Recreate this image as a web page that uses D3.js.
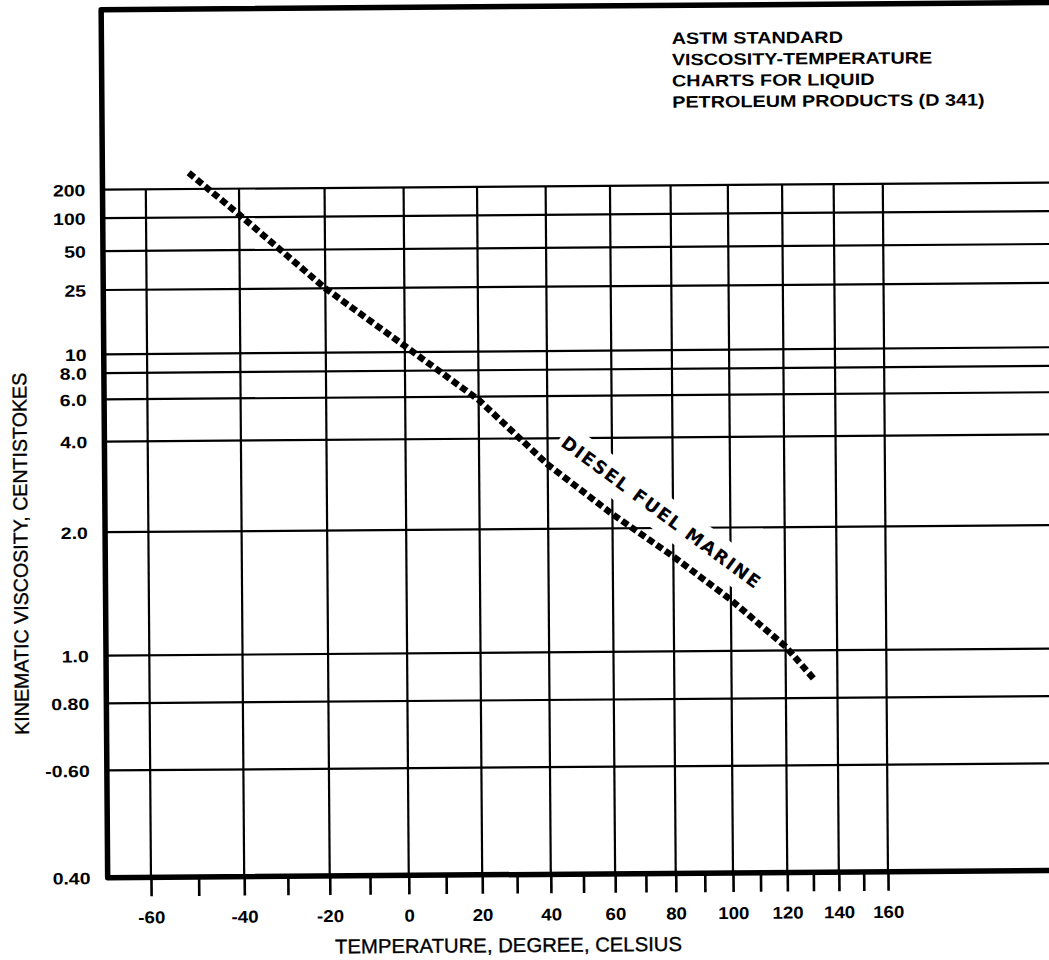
<!DOCTYPE html>
<html><head><meta charset="utf-8">
<script src="https://cdn.jsdelivr.net/npm/d3@7"></script>
<style>body{margin:0;background:#fff;} svg{display:block;}</style>
</head><body><svg id="chart" width="1049" height="960"></svg>
<script>
// ---------- data ----------
const viscosityTicks  = [200, 100, 50, 25, 10, 8, 6, 4, 2, 1, 0.8, 0.6, 0.4];
const viscosityLabels = ["200", "100", "50", "25", "10", "8.0", "6.0", "4.0", "2.0", "1.0", "0.80", "-0.60", "0.40"];
const temperatureMajor = [-60, -40, -20, 0, 20, 40, 60, 80, 100, 120, 140, 160];
const temperatureMinor = [-50, -30, -10, 10, 30, 50, 70, 90, 110, 130, 150];
const dieselTemps = [-51, -40, -20, 0, 20, 40, 60, 80, 100, 120, 131];
const dieselVisc  = [310, 106, 25, 10.8, 5.8, 3.2, 2.2, 1.67, 1.3, 1.02, 0.87];
const seriesLabel = "DIESEL FUEL MARINE";
const titleLines = ["ASTM STANDARD", "VISCOSITY-TEMPERATURE", "CHARTS FOR LIQUID", "PETROLEUM PRODUCTS (D 341)"];
const xTitle = "TEMPERATURE, DEGREE, CELSIUS";
const yTitle = "KINEMATIC VISCOSITY, CENTISTOKES";

// ---------- ASTM D341 transforms ----------
const astm = v => Math.log10(Math.log10(v + 0.7 + Math.exp(-1.47 - 1.84 * v - 0.51 * v * v)));
const K = t => t + 273.15;

const W = 1049, H = 960;
const left = 104.7, topY = 6.5, right = 1080;
const FONT = "'Liberation Sans', Arial, Helvetica, sans-serif";

const x = d3.scaleLog().domain([K(-60), K(160)]).range([148, 885]);
const y = d3.scaleLinear().domain([astm(200), astm(0.4)]).range([186.5, 874.5]);
const yTop = y(astm(200)), yBottom = y(astm(0.4));

const svg = d3.select("#chart");
svg.append("rect").attr("width", W).attr("height", H).attr("fill", "#fff");
const g = svg.append("g").attr("transform", "rotate(-0.43 525 480)");

function stretch(sel, f) {
  sel.each(function () {
    const L = this.getComputedTextLength();
    d3.select(this).attr("textLength", L * f).attr("lengthAdjust", "spacingAndGlyphs");
  });
}

// ---------- grid ----------
g.append("g").selectAll("line").data(viscosityTicks.slice(0, -1)).join("line")
  .attr("x1", left).attr("x2", right)
  .attr("y1", d => y(astm(d))).attr("y2", d => y(astm(d)))
  .attr("stroke", "#000").attr("stroke-width", 2.2);

g.append("g").selectAll("line").data(temperatureMajor).join("line")
  .attr("x1", d => x(K(d))).attr("x2", d => x(K(d)))
  .attr("y1", yTop).attr("y2", yBottom)
  .attr("stroke", "#000").attr("stroke-width", 2.2);

// ---------- frame ----------
g.append("path")
  .attr("d", `M${right},${topY}L${left},${topY}L${left},${yBottom}L${right},${yBottom}`)
  .attr("fill", "none").attr("stroke", "#000").attr("stroke-width", 5.5)
  .attr("stroke-linejoin", "round");

// ---------- x axis (ticks + labels) ----------
const allTemps = temperatureMajor.concat(temperatureMinor).sort((a, b) => a - b);
const xAxis = d3.axisBottom(x)
  .tickValues(allTemps.map(K))
  .tickSize(19)
  .tickFormat(d => {
    const t = Math.round(d - 273.15);
    return temperatureMajor.includes(t) ? String(t) : "";
  });
const xa = g.append("g").attr("transform", `translate(0,${yBottom})`).call(xAxis);
xa.select(".domain").remove();
xa.selectAll(".tick line").attr("stroke", "#000").attr("stroke-width", 2.6);
xa.selectAll(".tick text")
  .attr("y", 46).attr("dy", 0)
  .attr("fill", "#000").attr("font-family", FONT).attr("font-weight", "bold")
  .attr("font-size", 17);
stretch(xa.selectAll(".tick text").filter(function () { return this.textContent !== ""; }), 1.1);

// ---------- y axis labels ----------
const yAxis = d3.axisLeft(y)
  .tickValues(viscosityTicks.map(astm))
  .tickSize(0).tickPadding(left - 87.5)
  .tickFormat((d, i) => viscosityLabels[i]);
const ya = g.append("g").attr("transform", `translate(${left},0)`).call(yAxis);
ya.select(".domain").remove();
ya.selectAll(".tick text")
  .attr("dy", "0.36em")
  .attr("fill", "#000").attr("font-family", FONT).attr("font-weight", "bold")
  .attr("font-size", 16.5);
stretch(ya.selectAll(".tick text"), 1.18);

// ---------- diesel fuel marine line ----------
const line = d3.line()
  .x(d => x(K(d.t)))
  .y(d => y(astm(d.v)));
const diesel = dieselTemps.map((t, i) => ({ t, v: dieselVisc[i] }));

// label along the line
const anchorT = 70;
const i0 = d3.bisectRight(dieselTemps, anchorT) - 1;
const pA = [x(K(dieselTemps[i0])), y(astm(dieselVisc[i0]))];
const pB = [x(K(dieselTemps[i0 + 1])), y(astm(dieselVisc[i0 + 1]))];
const xAnchor = x(K(anchorT));
const fr = (xAnchor - pA[0]) / (pB[0] - pA[0]);
const yAnchor = pA[1] + fr * (pB[1] - pA[1]);
const iS = dieselTemps.indexOf(40), iE = dieselTemps.indexOf(100);
const ang = Math.atan2(y(astm(dieselVisc[iE])) - y(astm(dieselVisc[iS])),
                       x(K(dieselTemps[iE])) - x(K(dieselTemps[iS]))) * 180 / Math.PI;
const lab = g.append("g").attr("transform", `translate(${xAnchor},${yAnchor}) rotate(${ang})`);
const labLen = 242;
lab.append("rect")
  .attr("x", -labLen / 2 - 4).attr("y", -47).attr("width", labLen + 8).attr("height", 36)
  .attr("fill", "#fff");
lab.append("text")
  .attr("x", 0).attr("y", -23)
  .attr("text-anchor", "middle")
  .attr("font-family", "'DejaVu Sans', sans-serif").attr("font-weight", "bold")
  .attr("font-size", 18)
  .attr("textLength", labLen).attr("lengthAdjust", "spacing")
  .attr("fill", "#000")
  .text(seriesLabel);

g.append("path").datum(diesel)
  .attr("d", line)
  .attr("fill", "none").attr("stroke", "#000")
  .attr("stroke-width", 6.5).attr("stroke-dasharray", "7,3.5");

// ---------- title ----------
const title = g.append("g");
title.selectAll("text").data(titleLines).join("text")
  .attr("x", 675).attr("y", (d, i) => 45.2 + i * 21.2)
  .attr("font-family", FONT).attr("font-weight", "bold").attr("font-size", 16.5)
  .attr("fill", "#000")
  .text(d => d);
stretch(title.selectAll("text"), 1.2);

// ---------- axis titles ----------
g.append("text")
  .attr("x", 505).attr("y", 952)
  .attr("text-anchor", "middle")
  .attr("font-family", FONT).attr("font-size", 20)
  .attr("fill", "#000").attr("stroke", "#000").attr("stroke-width", 0.35)
  .attr("textLength", 347).attr("lengthAdjust", "spacingAndGlyphs")
  .text(xTitle);

g.append("text")
  .attr("transform", "translate(27,550) rotate(-90)")
  .attr("text-anchor", "middle")
  .attr("font-family", FONT).attr("font-size", 20)
  .attr("fill", "#000").attr("stroke", "#000").attr("stroke-width", 0.35)
  .attr("textLength", 362).attr("lengthAdjust", "spacingAndGlyphs")
  .text(yTitle);
</script>
</body></html>
